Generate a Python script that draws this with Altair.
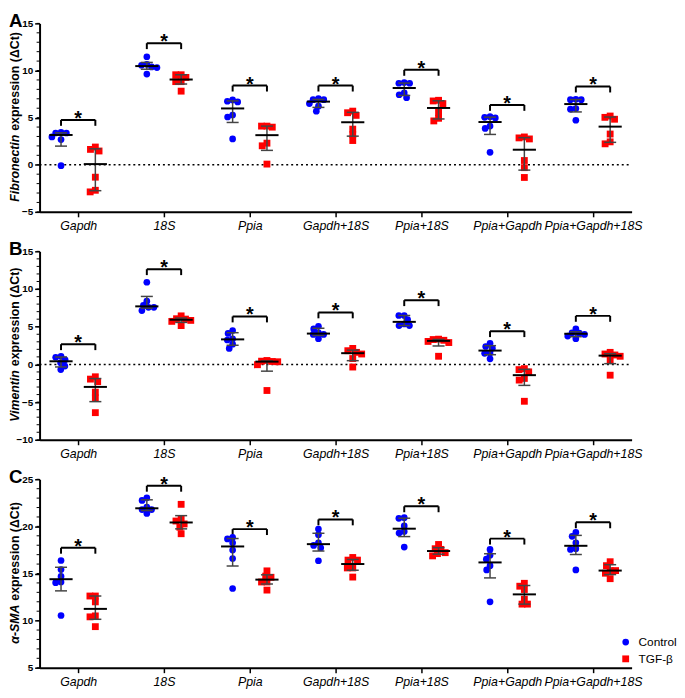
import json
import math
import altair as alt
import pandas as pd

# ---------------- data ----------------
categories = ["Gapdh", "18S", "Ppia", "Gapdh+18S", "Ppia+18S", "Ppia+Gapdh", "Ppia+Gapdh+18S"]
groups = ["Control", "TGF-β"]

fn_control = [
    [3.37, 3.37, 3.44, 2.95, 2.67, -0.10],
    [10.66, 11.46, 10.31, 10.56, 10.38, 9.62],
    [6.74, 6.67, 6.88, 5.28, 5.07, 2.74],
    [6.91, 6.91, 7.01, 6.49, 6.22, 5.69],
    [8.65, 8.65, 8.72, 7.64, 7.43, 7.12],
    [5.03, 4.97, 5.10, 4.10, 3.85, 1.32],
    [6.91, 6.91, 6.94, 5.97, 5.90, 4.72],
]
fn_tgf = [
    [1.63, 1.46, 1.88, -1.32, -2.71, -2.88],
    [9.55, 9.27, 9.55, 8.82, 8.82, 7.81],
    [4.10, 3.99, 4.10, 2.29, 2.01, 0.07],
    [5.52, 5.24, 5.69, 3.78, 3.19, 2.57],
    [6.77, 6.49, 6.84, 5.56, 4.93, 4.65],
    [2.85, 2.74, 2.95, 0.45, -0.31, -1.35],
    [5.03, 4.83, 5.17, 3.26, 2.43, 2.22],
]
fn_bracket = [4.76, 12.9, 8.4, 8.4, 10.07, 6.35, 8.3]

vim_control = [
    [0.95, 0.61, 1.08, 0.22, -0.22, -0.69],
    [10.9, 8.39, 7.83, 7.57, 7.57, 7.14],
    [4.11, 4.50, 3.40, 3.24, 2.68, 2.12],
    [4.20, 4.71, 5.06, 3.98, 3.98, 3.42],
    [5.93, 6.49, 6.49, 5.36, 5.15, 5.15],
    [2.38, 2.16, 2.81, 1.51, 1.47, 0.74],
    [4.15, 4.20, 4.71, 3.98, 3.76, 3.42],
]
vim_tgf = [
    [-1.95, -2.29, -1.64, -3.68, -4.45, -6.40],
    [6.01, 6.06, 6.44, 5.84, 5.71, 5.15],
    [0.43, 0.39, 0.52, -0.04, -3.46, 0.35],
    [1.60, 1.82, 2.12, 1.38, 0.78, -0.35],
    [3.30, 3.20, 3.05, 3.35, 2.90, 1.08],
    [-0.69, -0.99, -0.56, -1.86, -2.08, -4.89],
    [1.38, 1.25, 1.60, 1.08, 0.61, -1.43],
]
vim_bracket = [2.68, 12.63, 6.36, 6.9, 8.52, 4.41, 6.44]

sma_control = [
    [16.38, 14.69, 15.42, 14.10, 14.03, 10.54],
    [22.75, 23.03, 22.06, 21.78, 21.78, 21.37],
    [18.67, 18.84, 18.25, 17.49, 16.59, 13.41],
    [19.71, 19.12, 18.25, 17.98, 17.73, 16.35],
    [20.85, 20.92, 20.05, 19.46, 19.29, 17.80],
    [17.56, 16.94, 15.83, 16.52, 15.38, 11.99],
    [18.94, 19.36, 18.25, 17.63, 17.56, 15.38],
]
sma_tgf = [
    [12.61, 12.61, 11.99, 10.50, 10.40, 9.36],
    [22.34, 20.74, 20.57, 20.26, 19.91, 19.22],
    [15.28, 14.72, 14.60, 14.10, 14.10, 13.24],
    [16.42, 16.42, 16.70, 15.59, 15.59, 14.62],
    [18.08, 17.56, 17.63, 17.21, 17.11, 16.87],
    [13.65, 13.96, 13.30, 12.27, 11.75, 11.75],
    [16.25, 15.83, 15.31, 15.03, 15.31, 14.45],
]
sma_bracket = [17.73, 24.31, 19.71, 20.74, 22.13, 18.70, 20.43]

# ---------------- layout / style ----------------
W = 600
H = 191
XDOM = [-0.45, 6.45]
PX_X = W / (XDOM[1] - XDOM[0])
GROUP_SHIFT = 0.2
FONT = "Liberation Sans"
BLUE = "#0000FF"
RED = "#FF0000"

# Arial/Liberation bold advance widths (per 1000 em) for the title strings
BOLD_W = {" ": 278, "(": 333, ")": 333, "-": 333, "A": 722, "C": 722, "F": 611, "M": 833,
          "S": 667, "V": 667, "b": 611, "c": 556, "e": 556, "i": 278, "m": 889, "n": 611,
          "o": 611, "p": 611, "r": 389, "s": 556, "t": 333, "x": 556, "Δ": 612, "α": 611}


def text_width(s, size):
    return sum(BOLD_W.get(ch, 600) for ch in s) * size / 1000.0


def quantile_r6(vals, p):
    v = sorted(vals)
    n = len(v)
    pos = p * (n + 1)
    k = int(math.floor(pos))
    frac = pos - k
    if k < 1:
        return v[0]
    if k >= n:
        return v[-1]
    return v[k - 1] + frac * (v[k] - v[k - 1])


def swarm(vals, px_per_unit, d=5.5):
    order = sorted(range(len(vals)), key=lambda i: -vals[i])
    placed = []
    off = [0.0] * len(vals)
    for i in order:
        y = vals[i] * px_per_unit
        cands = [0.0]
        forb = []
        for (px_, py_) in placed:
            dy = abs(py_ - y)
            if dy < d:
                w = math.sqrt(d * d - dy * dy)
                forb.append((px_ - w, px_ + w))
                cands += [px_ - w, px_ + w]
        ok = [c for c in cands if all(not (a + 1e-9 < c < b - 1e-9) for a, b in forb)]
        best = min(ok, key=lambda c: (abs(c), c))
        off[i] = best
        placed.append((best, y))
    return [o / PX_X for o in off]


def panel(control, tgf, bracket, ydom, yticks, letter, title_it, title_rest, zero_line, legend):
    px_y = H / (ydom[1] - ydom[0])
    pts, summ, br = [], [], []
    for i, cat in enumerate(categories):
        for g, arr, sgn in ((groups[0], control[i], -1), (groups[1], tgf[i], 1)):
            cx = i + sgn * GROUP_SHIFT
            offs = swarm(arr, px_y)
            for v, o in zip(arr, offs):
                pts.append({"cat": cat, "group": g, "x": cx + o, "v": v})
            summ.append({"cat": cat, "group": g, "x": cx,
                         "xl": cx - 0.135, "xr": cx + 0.135,
                         "cl": cx - 0.07, "cr": cx + 0.07,
                         "med": quantile_r6(arr, 0.5),
                         "q1": quantile_r6(arr, 0.25), "q3": quantile_r6(arr, 0.75)})
        br.append({"cat": cat, "x1": i - GROUP_SHIFT, "x2": i + GROUP_SHIFT, "xm": i,
                   "y": bracket[i], "yt": bracket[i] - 6.0 / px_y})
    pts = pd.DataFrame(pts)
    summ = pd.DataFrame(summ)
    br = pd.DataFrame(br)

    xscale = alt.Scale(domain=XDOM, nice=False, zero=False)
    yscale = alt.Scale(domain=ydom, nice=False, zero=False)
    xaxis = alt.Axis(values=list(range(len(categories))),
                     labelExpr=json.dumps(categories) + "[datum.value]",
                     title=None, grid=False, labelFontStyle="italic", labelFontSize=12.5,
                     labelFontWeight="normal", labelOverlap=False, labelBound=False,
                     labelPadding=3, tickSize=5, labelFlush=False)
    yaxis = alt.Axis(values=yticks, title=None, grid=False, labelFontWeight="bold",
                     labelFontSize=10, tickSize=5, labelPadding=2)

    def X(f):
        return alt.X(f, type="quantitative", scale=xscale, axis=xaxis)

    def Y(f):
        return alt.Y(f, type="quantitative", scale=yscale, axis=yaxis)

    layers = []
    minor = pd.DataFrame({"v": list(range(ydom[0], ydom[1] + 1))})
    layers.append(alt.Chart(minor).mark_rule(color="black", strokeWidth=1).encode(
        y=Y("v"), x=alt.value(0), x2=alt.value(-3)))
    if zero_line:
        layers.append(alt.Chart(pd.DataFrame({"v": [0]})).mark_rule(
            color="black", strokeWidth=1.5, strokeDash=[2, 3]).encode(
            y=Y("v"), x=alt.value(0), x2=alt.value(W)))
    # significance brackets
    layers.append(alt.Chart(br).mark_rule(color="black", strokeWidth=2).encode(
        x=X("x1"), x2="x2", y=Y("y")))
    layers.append(alt.Chart(br).mark_rule(color="black", strokeWidth=2).encode(
        x=X("x1"), y=Y("y"), y2="yt"))
    layers.append(alt.Chart(br).mark_rule(color="black", strokeWidth=2).encode(
        x=X("x2"), y=Y("y"), y2="yt"))
    layers.append(alt.Chart(br).mark_text(text="*", fontSize=20, fontWeight="bold", font=FONT,
                                          baseline="alphabetic", dy=5).encode(
        x=X("xm"), y=Y("y")))
    # points
    layers.append(alt.Chart(pts[pts.group == groups[0]]).mark_point(
        shape="circle", filled=True, color=BLUE, size=46, opacity=1).encode(
        x=X("x"), y=Y("v")))
    layers.append(alt.Chart(pts[pts.group == groups[1]]).mark_square(
        color=RED, size=48, opacity=1).encode(x=X("x"), y=Y("v")))
    # median + interquartile range
    layers.append(alt.Chart(summ).mark_rule(color="#444444", strokeWidth=1.5).encode(
        x=X("x"), y=Y("q1"), y2="q3"))
    layers.append(alt.Chart(summ).mark_rule(color="#444444", strokeWidth=1.5).encode(
        x=X("cl"), x2="cr", y=Y("q1")))
    layers.append(alt.Chart(summ).mark_rule(color="#444444", strokeWidth=1.5).encode(
        x=X("cl"), x2="cr", y=Y("q3")))
    layers.append(alt.Chart(summ).mark_rule(color="black", strokeWidth=2).encode(
        x=X("xl"), x2="xr", y=Y("med")))

    one = pd.DataFrame({"a": [0]})
    # panel letter
    layers.append(alt.Chart(one).mark_text(text=letter, fontSize=19, fontWeight="bold", font=FONT,
                                           align="left", baseline="alphabetic").encode(
        x=alt.value(-31), y=alt.value(4)))
    # y title: italic gene name + bold rest, rotated (reads bottom to top)
    fs = 12.5
    gap = 4.0
    w_it = text_width(title_it, fs)
    w_rest = text_width(title_rest, fs)
    anchor = H / 2 + (w_rest - w_it) / 2
    layers.append(alt.Chart(one).mark_text(text=title_it, fontSize=fs, fontWeight="bold",
                                           fontStyle="italic", font=FONT, angle=270,
                                           align="right", baseline="middle").encode(
        x=alt.value(-25), y=alt.value(anchor + gap / 2)))
    layers.append(alt.Chart(one).mark_text(text=title_rest, fontSize=fs, fontWeight="bold",
                                           font=FONT, angle=270,
                                           align="left", baseline="middle").encode(
        x=alt.value(-25), y=alt.value(anchor - gap / 2)))
    if legend:
        layers.append(alt.Chart(one).mark_point(shape="circle", filled=True, color=BLUE,
                                                size=46, opacity=1).encode(
            x=alt.value(594), y=alt.value(165)))
        layers.append(alt.Chart(one).mark_square(color=RED, size=48, opacity=1).encode(
            x=alt.value(594), y=alt.value(182)))
        layers.append(alt.Chart(one).mark_text(text=groups[0], fontSize=12, font=FONT,
                                               align="left", baseline="middle").encode(
            x=alt.value(607), y=alt.value(165)))
        layers.append(alt.Chart(one).mark_text(text=groups[1], fontSize=12, font=FONT,
                                               align="left", baseline="middle").encode(
            x=alt.value(607), y=alt.value(182)))
    return alt.layer(*layers).properties(width=W, height=H)


pA = panel(fn_control, fn_tgf, fn_bracket, [-5, 15], [-5, 0, 5, 10, 15], "A",
           "Fibronectin", "expression (ΔCt)", True, False)
pB = panel(vim_control, vim_tgf, vim_bracket, [-10, 15], [-10, -5, 0, 5, 10, 15], "B",
           "Vimentin", "expression (ΔCt)", True, False)
pC = panel(sma_control, sma_tgf, sma_bracket, [5, 25], [5, 10, 15, 20, 25], "C",
           "α-SMA", "expression (ΔCt)", False, True)

chart = alt.vconcat(pA, pB, pC, spacing=40, bounds="flush").properties(
    padding=0
).configure_view(stroke=None).configure_axis(
    domainColor="black", domainWidth=2, tickColor="black", tickWidth=1.5,
    labelColor="black", labelFont=FONT
).configure_text(color="black")

chart.save("out.html", embed_options={"renderer": "svg", "actions": False})
